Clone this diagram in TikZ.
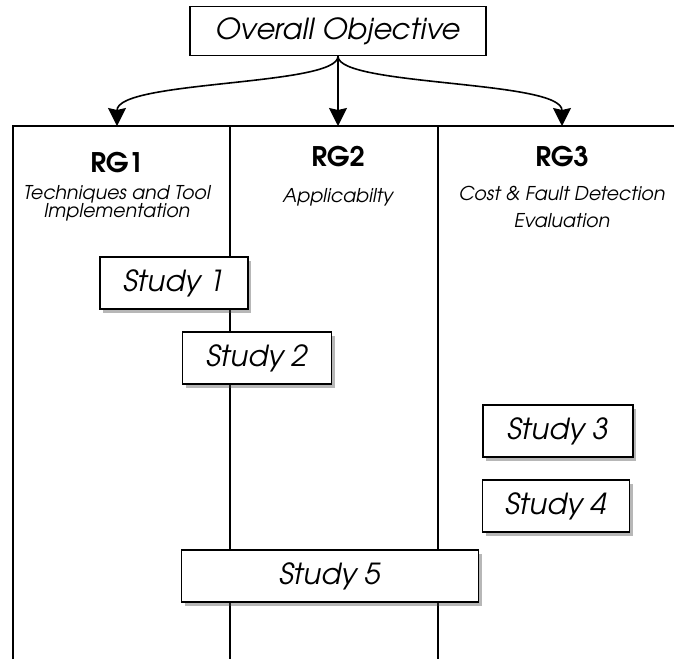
\documentclass[tikz,border=0pt]{standalone}
\usepackage{fontspec}
\setmainfont{TeX Gyre Adventor}
\usetikzlibrary{arrows.meta,shadows}

\begin{document}
\begin{tikzpicture}[x=1pt,y=-1pt,line width=1.6pt,
  box/.style={draw, fill=white, inner sep=0pt, minimum height=52pt, font=\itshape\fontsize{29}{29}\selectfont},
  study/.style={box, drop shadow={shadow xshift=3pt, shadow yshift=-4pt, opacity=0.4, fill=black!70}},
  head/.style={font=\bfseries\fontsize{27}{27}\selectfont, inner sep=0pt, anchor=base},
  sub/.style={font=\itshape\fontsize{19}{18}\selectfont, align=center, inner sep=0pt, anchor=north},
  arr/.style={-{Stealth[length=18pt,width=18pt,inset=2pt]}}]
\useasboundingbox (0,0) rectangle (674,659);
% lanes
\coordinate (t1) at (117,126);
\coordinate (t2) at (338,126);
\coordinate (t3) at (562,126);
\draw (13,659) -- (13,126) -- (674,126);
\draw (230,126) -- (230,659);
\draw (438,126) -- (438,659);
% headers
\node[head] (rg1) at (117,172) {RG1};
\node[head] (rg2) at (338,166) {RG2};
\node[head] (rg3) at (562,166) {RG3};
\node[sub] (d1) at (117,185) {Techniques and Tool\\Implementation};
\node[sub] (d2) at (338,188) {Applicabilty};
\node[sub] (d3) at (562,185) {Cost \& Fault Detection\\[9pt]Evaluation};
% objective
\node[box, minimum width=296pt, minimum height=49pt] (obj) at (338,31) {Overall Objective};
\draw[arr] (obj.south) .. controls +(0,30) and +(0,-46) .. (t1);
\draw[arr] (obj.south) -- (t2);
\draw[arr] (obj.south) .. controls +(0,30) and +(0,-46) .. (t3);
% studies
\node[study, minimum width=148pt] (s1) at (174,283) {Study 1};
\node[study, minimum width=149pt] (s2) at (257,358) {Study 2};
\node[study, minimum width=150pt] (s3) at (558,431) {Study 3};
\node[study, minimum width=147pt] (s4) at (556,506) {Study 4};
\node[study, minimum width=297pt] (s5) at (330,576) {Study 5};
\end{tikzpicture}
\end{document}
